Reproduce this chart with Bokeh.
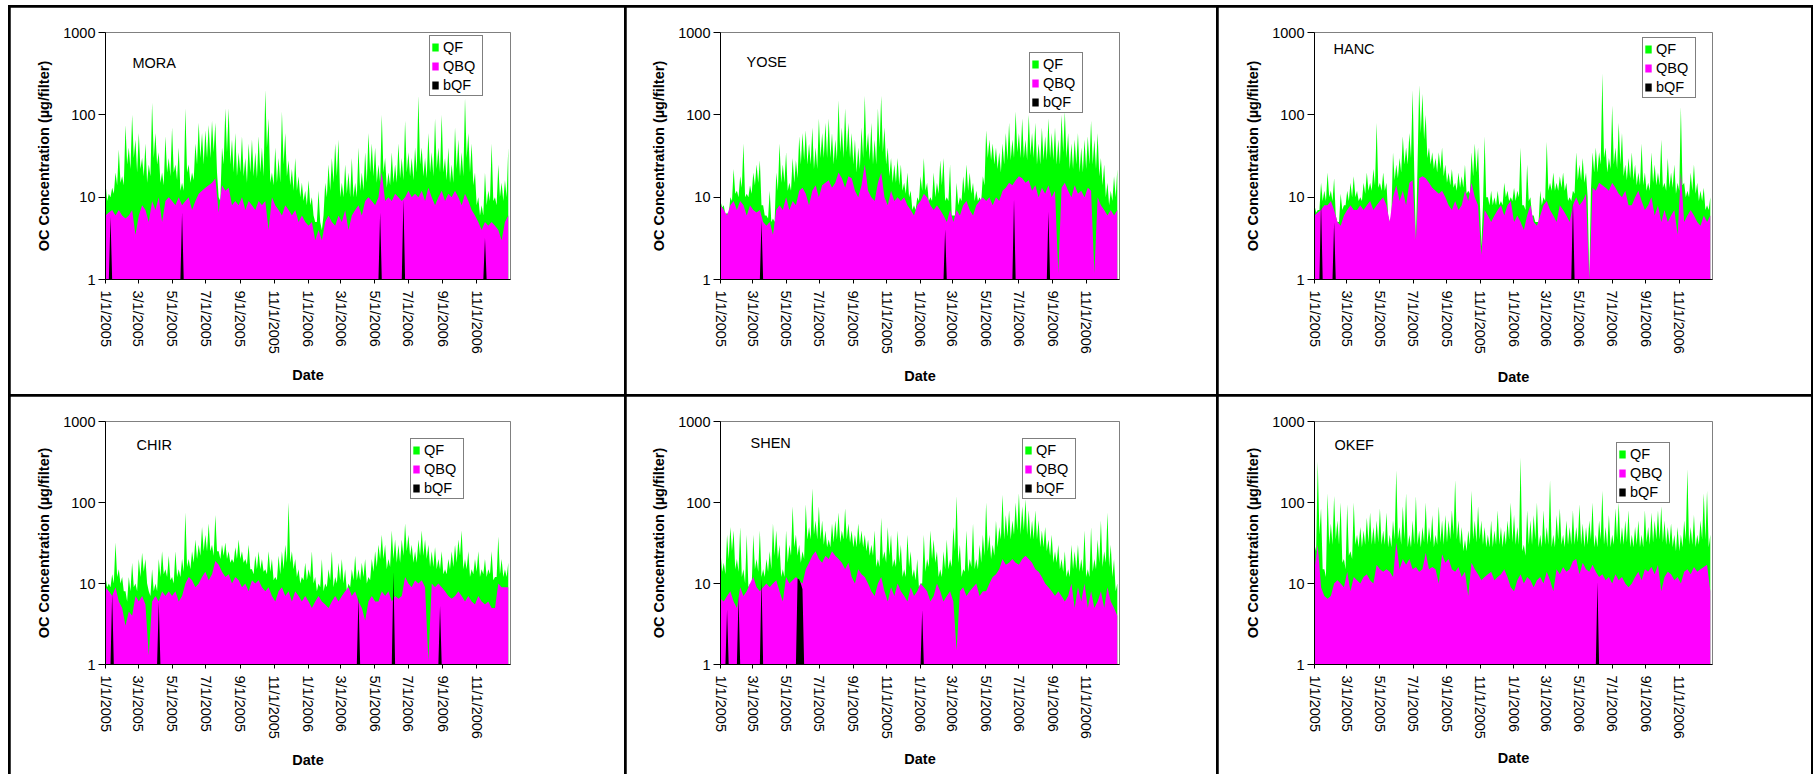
import numpy as np
import pandas as pd
from bokeh.plotting import figure
from bokeh.layouts import gridplot
from bokeh.models import (ColumnDataSource, Range1d, FixedTicker, PrintfTickFormatter,
                          Legend, LegendItem, Label)
from bokeh.embed import file_html
from bokeh.resources import INLINE

FONT = "Liberation Sans"
FS = "14.5px"

# ---------------- data ----------------
tick_labels = ["1/1/2005", "3/1/2005", "5/1/2005", "7/1/2005", "9/1/2005", "11/1/2005",
               "1/1/2006", "3/1/2006", "5/1/2006", "7/1/2006", "9/1/2006", "11/1/2006"]
y_ticks = [1, 10, 100, 1000]
series_names = ["QF", "QBQ", "bQF"]
sample_start = "2005-01-01"
sample_step = "6D"      # *_qf and *_qbq samples
mid_offset = "3D"       # *_qf_mid samples sit half-way between *_qf samples
bqf_step = "3D"
axis_start = "2005-01-01"
axis_end = "2007-01-01"

mora_qf = [15, 11, 13, 20, 38, 18, 75, 40, 100, 50,
           60, 30, 45, 25, 140, 60, 35, 20, 55, 30,
           70, 25, 40, 15, 120, 25, 20, 45, 80, 60,
           65, 75, 85, 80, 10, 40, 120, 120, 50, 60,
           35, 55, 30, 45, 50, 35, 55, 40, 200, 90,
           20, 40, 30, 110, 60, 28, 22, 30, 18, 15,
           12, 16, 10, 5, 12, 4, 15, 25, 30, 45,
           50, 15, 25, 20, 30, 15, 40, 20, 35, 60,
           45, 40, 25, 100, 30, 20, 35, 25, 45, 30,
           85, 35, 30, 40, 170, 40, 30, 60, 35, 90,
           40, 100, 30, 40, 25, 70, 50, 35, 160, 60,
           45, 20, 10, 8, 20, 12, 45, 10, 25, 15,
           16, 40]
mora_qf_mid = [9, 10, 11, 14, 15, 14, 25, 22, 30, 20,
               22, 18, 15, 18, 30, 25, 15, 14, 20, 18,
               20, 16, 12, 12, 20, 15, 16, 25, 30, 25,
               30, 30, 35, 20, 9, 25, 35, 25, 20, 18,
               20, 18, 15, 20, 18, 17, 20, 18, 40, 15,
               14, 15, 15, 25, 18, 14, 12, 12, 10, 9,
               8, 8, 6, 5, 5, 6, 10, 12, 15, 18,
               10, 10, 11, 10, 10, 10, 12, 12, 15, 20,
               18, 15, 15, 20, 13, 14, 15, 15, 17, 16,
               20, 18, 16, 20, 25, 18, 17, 20, 18, 22,
               20, 20, 16, 15, 15, 22, 18, 18, 30, 20,
               14, 8, 6, 6, 8, 9, 9, 8, 10, 9,
               10]
mora_qbq = [6, 6.5, 7, 6, 7, 6, 5.5, 6, 7, 3.5,
            6, 8, 7, 5, 9, 7, 10, 5, 9, 10,
            9, 8, 10, 8, 9, 10, 7, 9, 11, 12,
            13, 14, 15, 17, 6.5, 14, 12, 13, 8, 9,
            8, 10, 7, 9, 8, 7, 9, 8, 9, 4,
            10, 8, 7, 6, 8, 7, 6, 7, 5, 6,
            5, 4.5, 5, 3, 4, 3, 5, 6, 5, 4.5,
            6, 5, 7, 4, 6, 7, 8, 6, 9, 10,
            9, 8, 10, 20, 9, 10, 9, 11, 10, 9,
            10, 12, 10, 11, 10, 12, 9, 13, 10, 8,
            10, 12, 9, 11, 10, 12, 10, 8, 11, 9,
            7, 6, 5, 4, 5, 4.5, 5, 4.5, 4, 3,
            5, 6]
mora_bqf_dates = ["2005-01-11", "2005-05-18", "2006-05-11", "2006-06-22", "2006-11-16"]
mora_bqf_vals = [5.8, 6.5, 6.5, 9.5, 3.2]

yose_qf = [9, 8, 6.5, 10, 22, 12, 18, 45, 11, 14,
           20, 25, 28, 8, 6, 12, 5.5, 20, 45, 25,
           35, 15, 30, 28, 55, 60, 65, 45, 70, 40,
           90, 60, 80, 90, 60, 50, 150, 70, 120, 80,
           60, 50, 40, 70, 170, 60, 80, 50, 120, 170,
           70, 40, 30, 25, 30, 25, 15, 20, 12, 8,
           10, 18, 30, 15, 10, 20, 15, 28, 30, 10,
           25, 6, 15, 10, 18, 25, 20, 15, 12, 10,
           18, 65, 50, 45, 40, 35, 45, 60, 80, 50,
           110, 60, 90, 50, 100, 60, 80, 45, 70, 55,
           90, 60, 70, 50, 100, 110, 60, 45, 50, 60,
           40, 50, 55, 85, 50, 60, 30, 25, 15, 12,
           18, 22]
yose_qf_mid = [7.5, 6, 6, 9, 11, 10, 13, 10, 10, 11,
               14, 15, 8, 6, 5.5, 5, 5, 12, 15, 15,
               12, 12, 15, 17, 25, 28, 25, 25, 22, 22,
               30, 30, 30, 30, 25, 28, 35, 30, 35, 30,
               25, 20, 22, 30, 35, 28, 25, 25, 40, 35,
               25, 18, 15, 15, 14, 12, 11, 10, 7, 7,
               9, 12, 12, 9, 9, 10, 11, 14, 9, 9,
               6, 6, 8, 9, 11, 12, 11, 9, 9, 9,
               14, 30, 28, 25, 22, 20, 25, 28, 28, 30,
               35, 30, 30, 28, 32, 30, 25, 25, 28, 28,
               30, 28, 25, 25, 35, 30, 22, 22, 25, 20,
               20, 22, 25, 25, 22, 18, 14, 10, 8, 9,
               10]
yose_qbq = [8, 7, 6, 8, 9, 7, 9, 8, 6, 8,
            7, 6.5, 7, 5, 4.5, 5, 3.5, 7, 8, 7,
            10, 7, 9, 8, 12, 13, 11, 8, 12, 14,
            10, 14, 15, 16, 13, 15, 20, 17, 13, 18,
            17, 12, 10, 14, 25, 12, 10, 9, 15, 20,
            10, 8, 12, 9, 10, 9, 10, 8, 7, 6,
            8, 9, 11, 10, 8, 7, 8, 7, 6, 5,
            7, 5, 7, 6, 8, 9, 7, 6, 8, 9,
            10, 9, 10, 8, 10, 9, 12, 13, 15, 14,
            16, 18, 17, 15, 16, 12, 14, 10, 13, 11,
            14, 10, 12, 1.2, 13, 15, 12, 10, 14, 11,
            12, 10, 13, 12, 1.2, 10, 8, 7, 6, 7,
            6, 7]
yose_bqf_dates = ["2005-03-17", "2006-02-16", "2006-06-23", "2006-08-25"]
yose_bqf_vals = [5.2, 4.1, 9.5, 6.7]

hanc_qf = [8, 7, 15, 12, 20, 12, 17, 5, 11, 8,
           12, 15, 18, 12, 10, 15, 20, 15, 22, 80,
           15, 20, 15, 5, 35, 25, 30, 55, 40, 60,
           200, 3, 230, 180, 100, 40, 35, 30, 35, 40,
           25, 20, 22, 15, 20, 18, 25, 12, 35, 45,
           40, 2.5, 55, 10, 12, 10, 12, 9, 15, 12,
           10, 13, 12, 40, 8, 25, 10, 6, 5, 12,
           10, 47, 15, 20, 15, 18, 20, 15, 10, 12,
           35, 25, 30, 20, 1, 35, 40, 35, 320, 40,
           30, 130, 40, 80, 60, 25, 30, 35, 25, 20,
           45, 20, 15, 35, 25, 20, 50, 15, 30, 20,
           25, 15, 125, 15, 12, 20, 25, 15, 12, 13,
           8, 10]
hanc_qf_mid = [6.5, 7, 9, 9, 10, 9, 6, 5, 7, 8,
               9, 10, 10, 9, 9, 11, 12, 12, 14, 13,
               12, 12, 6, 6, 16, 17, 20, 25, 25, 30,
               20, 25, 60, 50, 30, 25, 22, 20, 22, 18,
               15, 14, 13, 12, 13, 13, 11, 11, 18, 20,
               10, 8, 10, 8, 8, 8, 8, 8, 10, 9,
               9, 9, 10, 8, 7, 9, 6, 5, 5, 8,
               9, 12, 12, 12, 12, 13, 12, 9, 9, 11,
               16, 16, 15, 10, 12, 20, 20, 25, 30, 20,
               22, 25, 22, 25, 18, 16, 17, 16, 14, 14,
               14, 12, 12, 15, 14, 14, 13, 12, 13, 13,
               11, 12, 14, 10, 10, 12, 11, 9, 9, 7,
               7]
hanc_qbq = [6, 6.5, 7, 8, 8, 9, 7, 5, 4.5, 6,
            7, 8, 7, 7, 8, 7, 8, 9, 7, 8,
            9, 10, 8, 5, 10, 14, 9, 12, 8, 15,
            16, 3, 17, 18, 17, 15, 13, 12, 11, 12,
            10, 8, 7, 9, 7, 8, 12, 9, 15, 10,
            8, 2, 7, 6, 5, 6, 7, 8, 6, 8,
            9, 5, 6, 5, 4, 6, 8, 5, 4.5, 6,
            8, 9, 7, 6, 5, 8, 7, 6, 5, 8,
            10, 8, 9, 11, 1, 13, 12, 15, 14, 13,
            12, 15, 13, 11, 10, 12, 8, 8, 10, 12,
            9, 7, 8, 10, 6, 8, 5, 7, 5, 6,
            7, 3.5, 20, 5, 6, 7, 6, 5, 4.5, 6,
            5, 6]
hanc_bqf_dates = ["2005-01-13", "2005-02-05", "2006-04-20"]
hanc_bqf_vals = [9, 5, 9]

chir_qf = [12, 10, 13, 32, 15, 12, 8, 12, 18, 10,
           20, 24, 20, 8, 15, 10, 20, 25, 15, 22,
           12, 25, 15, 20, 75, 20, 25, 35, 30, 50,
           40, 55, 30, 70, 25, 30, 32, 25, 20, 28,
           35, 25, 20, 30, 15, 22, 25, 20, 15, 25,
           20, 12, 22, 25, 30, 100, 25, 20, 15, 12,
           18, 15, 25, 12, 10, 20, 10, 15, 25, 12,
           18, 20, 15, 10, 15, 22, 15, 18, 20, 12,
           20, 25, 30, 40, 30, 20, 45, 35, 30, 35,
           55, 40, 30, 25, 35, 45, 35, 30, 25, 28,
           20, 25, 15, 20, 25, 30, 35, 45, 20, 25,
           15, 20, 25, 15, 20, 15, 25, 12, 38, 20,
           15, 18]
chir_qf_mid = [9, 9, 10, 12, 10, 8, 6, 8, 9, 8,
               12, 14, 10, 7, 8, 8, 12, 13, 12, 11,
               10, 12, 12, 14, 16, 15, 18, 20, 22, 25,
               25, 25, 22, 25, 20, 22, 20, 18, 18, 20,
               20, 18, 17, 15, 13, 15, 15, 14, 13, 14,
               11, 11, 13, 15, 18, 18, 15, 12, 10, 11,
               11, 12, 10, 8, 9, 8, 9, 11, 9, 10,
               11, 10, 8, 9, 11, 11, 11, 12, 10, 11,
               14, 16, 20, 20, 15, 16, 20, 18, 18, 22,
               25, 22, 18, 18, 22, 22, 20, 16, 16, 15,
               15, 13, 13, 15, 16, 18, 22, 15, 15, 12,
               13, 14, 12, 13, 12, 13, 11, 12, 13, 12,
               12]
chir_qbq = [9, 8, 7, 9, 6, 5, 3, 4.5, 4, 7,
            6, 7, 5.5, 1.3, 6, 7, 6, 8, 7, 8,
            7, 8, 6, 7, 10, 12, 11, 9, 10, 12,
            14, 11, 13, 19, 17, 14, 12, 13, 10, 12,
            11, 9, 10, 8, 11, 10, 11, 9, 8, 9,
            7, 6, 8, 9, 7, 8, 6, 8, 7, 6,
            7, 6, 5, 6, 7, 6, 5.5, 5, 6, 7,
            6, 7, 8, 9, 7, 8, 6, 5, 3.5, 6,
            7, 6, 6, 8, 7, 8, 6, 7, 6.5, 7,
            12, 10, 9, 11, 10, 11, 9, 1.1, 10, 9,
            10, 9, 8, 7, 6.5, 7, 8, 7, 6, 7,
            6, 5.5, 7, 6, 5.5, 6, 5, 5, 10, 9,
            9, 9]
chir_bqf_dates = ["2005-01-12", "2005-04-07", "2006-04-02", "2006-06-03", "2006-08-27"]
chir_bqf_vals = [7.5, 6, 7, 14, 5.3]

shen_qf = [25, 18, 40, 50, 45, 20, 50, 15, 40, 10,
           40, 20, 45, 15, 20, 25, 55, 45, 30, 15,
           45, 30, 90, 40, 30, 25, 95, 50, 150, 60,
           90, 60, 45, 35, 55, 60, 75, 45, 85, 55,
           45, 40, 55, 45, 40, 35, 30, 45, 20, 65,
           25, 50, 40, 20, 45, 30, 15, 40, 25, 15,
           20, 10, 40, 20, 45, 35, 25, 15, 25, 35,
           20, 50, 120, 30, 15, 45, 20, 55, 20, 30,
           40, 100, 40, 30, 60, 50, 125, 70, 80, 60,
           100, 130, 90, 110, 80, 60, 80, 60, 45, 50,
           35, 40, 25, 30, 20, 25, 15, 30, 25, 30,
           20, 45, 15, 50, 20, 35, 60, 25, 75, 30,
           20, 10]
shen_qf_mid = [14, 13, 20, 25, 15, 14, 12, 10, 9, 9,
               15, 14, 12, 12, 14, 15, 22, 20, 12, 12,
               18, 22, 28, 22, 18, 20, 35, 35, 40, 35,
               35, 30, 28, 28, 32, 35, 32, 35, 35, 32,
               28, 28, 30, 28, 25, 22, 22, 16, 16, 20,
               18, 22, 16, 16, 18, 12, 12, 16, 12, 11,
               9, 10, 14, 16, 20, 18, 12, 12, 15, 15,
               16, 25, 18, 12, 14, 14, 16, 15, 15, 18,
               22, 25, 20, 22, 28, 35, 35, 38, 35, 40,
               45, 40, 45, 40, 35, 35, 35, 28, 28, 25,
               22, 18, 18, 15, 14, 12, 12, 15, 15, 14,
               14, 12, 12, 14, 15, 18, 16, 18, 16, 12,
               8]
shen_qbq = [6.5, 6, 7, 8, 6, 5, 9, 7, 8, 10,
            12, 9, 8, 9, 10, 9, 10, 11, 8, 6,
            12, 10, 11, 12, 11, 10, 15, 18, 22, 25,
            20, 18, 22, 20, 25, 22, 20, 18, 15, 18,
            12, 10, 15, 13, 12, 10, 8, 7, 10, 12,
            8, 6, 9, 7, 10, 8, 7, 6, 9, 7,
            8, 10, 9, 8, 6, 7, 10, 8, 6, 7,
            8, 6, 1.5, 8, 9, 7, 8, 9, 10, 7,
            8, 8, 10, 12, 13, 15, 20, 17, 18, 20,
            18, 17, 20, 22, 20, 18, 15, 14, 12, 10,
            9, 8, 7, 8, 7, 6, 7, 10, 5, 9,
            6, 10, 5, 8, 5, 6, 8, 5, 9, 6,
            5, 4]
shen_bqf_dates = ["2005-01-14", "2005-02-04", "2005-03-18", "2005-05-22", "2005-05-25",
                  "2005-05-28", "2005-05-31", "2006-01-05"]
shen_bqf_vals = [4.8, 7, 12, 11.5, 11.2, 10, 8.5, 4.7]

okef_qf = [30, 320, 85, 15, 130, 55, 120, 60, 100, 20,
           95, 25, 100, 40, 50, 45, 65, 75, 50, 60,
           85, 45, 75, 40, 60, 250, 50, 90, 130, 40,
           60, 120, 45, 50, 100, 50, 70, 40, 90, 60,
           70, 60, 80, 190, 60, 50, 35, 45, 140, 60,
           90, 60, 50, 40, 60, 45, 80, 50, 45, 60,
           100, 70, 50, 360, 30, 80, 60, 70, 100, 40,
           80, 50, 190, 40, 70, 85, 40, 60, 50, 80,
           50, 95, 55, 50, 60, 100, 40, 60, 140, 50,
           70, 40, 85, 100, 50, 60, 80, 40, 50, 60,
           40, 80, 50, 75, 60, 80, 90, 60, 50, 55,
           40, 50, 40, 60, 260, 50, 70, 40, 60, 130,
           140, 40]
okef_qf_mid = [25, 40, 15, 12, 30, 30, 35, 30, 18, 15,
               22, 20, 30, 28, 28, 30, 32, 30, 30, 32,
               30, 30, 28, 28, 35, 35, 30, 35, 28, 28,
               30, 30, 28, 32, 30, 32, 28, 30, 32, 30,
               32, 35, 40, 35, 30, 25, 25, 30, 35, 32,
               35, 30, 28, 28, 28, 30, 30, 28, 30, 35,
               32, 30, 30, 25, 22, 30, 30, 35, 28, 28,
               30, 30, 28, 28, 35, 30, 28, 30, 30, 30,
               32, 30, 28, 30, 35, 28, 28, 35, 30, 28,
               28, 30, 35, 30, 30, 32, 28, 28, 30, 28,
               28, 32, 30, 32, 35, 35, 32, 30, 30, 28,
               25, 25, 28, 35, 30, 30, 28, 30, 35, 35,
               28]
okef_qbq = [15, 30, 9, 7, 6.5, 7, 10, 11, 10, 9,
            14, 8, 12, 11, 10, 12, 13, 11, 10, 17,
            15, 14, 15, 14, 12, 32, 15, 20, 17, 20,
            15, 16, 14, 15, 24, 15, 16, 15, 10, 23,
            18, 20, 15, 14, 16, 12, 14, 7, 18, 15,
            13, 11, 12, 13, 14, 11, 12, 13, 15, 12,
            9, 8, 11, 13, 10, 12, 11, 9, 11, 12,
            10, 14, 11, 8, 15, 13, 16, 14, 15, 19,
            20, 13, 18, 15, 14, 17, 14, 12, 13, 11,
            12, 10, 13, 11, 12, 10, 9, 10, 12, 14,
            11, 15, 14, 16, 13, 17, 8, 12, 14, 13,
            11, 12, 10, 14, 15, 13, 16, 14, 15, 16,
            17, 8]
okef_bqf_dates = ["2006-06-04"]
okef_bqf_vals = [10.5]

sites = [
    ("MORA", mora_qf, mora_qf_mid, mora_qbq, mora_bqf_dates, mora_bqf_vals),
    ("YOSE", yose_qf, yose_qf_mid, yose_qbq, yose_bqf_dates, yose_bqf_vals),
    ("HANC", hanc_qf, hanc_qf_mid, hanc_qbq, hanc_bqf_dates, hanc_bqf_vals),
    ("CHIR", chir_qf, chir_qf_mid, chir_qbq, chir_bqf_dates, chir_bqf_vals),
    ("SHEN", shen_qf, shen_qf_mid, shen_qbq, shen_bqf_dates, shen_bqf_vals),
    ("OKEF", okef_qf, okef_qf_mid, okef_qbq, okef_bqf_dates, okef_bqf_vals),
]

# ---------------- layout (pixels) ----------------
layout_specs = [
    dict(W=614, H=387, L=95, R=114, T=25, B=115, leg=(324, 183), lab=(27, 30), xs=10),
    dict(W=590, H=387, L=94, R=86, T=25, B=111, leg=(309, 166), lab=(26, 33), xs=11),
    dict(W=593, H=387, L=96, R=86, T=25, B=111, leg=(328, 181), lab=(19, 20), xs=12),
    dict(W=614, H=378, L=95, R=114, T=25, B=107, leg=(305, 165), lab=(31, 26), xs=10),
    dict(W=590, H=378, L=92, R=97, T=24, B=109, leg=(302, 165), lab=(30, 23), xs=9),
    dict(W=593, H=378, L=94, R=99, T=24, B=110, leg=(302, 161), lab=(20, 24), xs=8),
]

COLORS = {"QF": "#00FF00", "QBQ": "#FF00FF", "bQF": "#000000"}

epoch = pd.Timestamp("1970-01-01")
tick_ts = pd.to_datetime(tick_labels, format="%m/%d/%Y")
tick_ms = [float((t - epoch) // pd.Timedelta(milliseconds=1)) for t in tick_ts]
overrides = {ms: lab for ms, lab in zip(tick_ms, tick_labels)}

bqf_grid = pd.date_range(sample_start, "2006-12-31", freq=bqf_step)


def make_panel(site, spec):
    name, qf, qf_mid, qbq, bdates, bvals = site
    W, H = spec["W"], spec["H"]
    p = figure(width=W, height=H, x_axis_type="datetime", y_axis_type="log",
               x_range=Range1d(pd.Timestamp(axis_start), pd.Timestamp(axis_end)),
               y_range=Range1d(1, 1000),
               output_backend="svg", toolbar_location=None,
               min_border_left=spec["L"], min_border_right=spec["R"],
               min_border_top=spec["T"], min_border_bottom=spec["B"])
    p.background_fill_color = "white"
    p.border_fill_color = "white"
    p.outline_line_color = "#808080"
    p.outline_line_width = 1
    p.xgrid.visible = False
    p.ygrid.visible = False

    # QF: main samples plus the in-between samples, merged in date order
    d_main = pd.date_range(sample_start, periods=len(qf), freq=sample_step)
    d_mid = d_main[:len(qf_mid)] + pd.Timedelta(mid_offset)
    qf_df = pd.DataFrame({"date": list(d_main) + list(d_mid),
                          "qf": list(qf) + list(qf_mid)}).sort_values("date")
    qf_src = ColumnDataSource(dict(date=qf_df["date"].values, qf=qf_df["qf"].values,
                                   base=[1.0] * len(qf_df)))
    r_qf = p.varea(x="date", y1="base", y2="qf", source=qf_src, fill_color=COLORS["QF"])

    src = ColumnDataSource(dict(date=d_main, qbq=qbq, base=[1.0] * len(qbq)))
    r_qbq = p.varea(x="date", y1="base", y2="qbq", source=src, fill_color=COLORS["QBQ"])

    bser = [1.0] * len(bqf_grid)
    g0 = bqf_grid[0]
    for d, v in zip(bdates, bvals):
        idx = int(round((pd.Timestamp(d) - g0).days / 3))
        bser[idx] = v
    bsrc = ColumnDataSource(dict(date=bqf_grid, bqf=bser, base=[1.0] * len(bser)))
    r_b = p.varea(x="date", y1="base", y2="bqf", source=bsrc, fill_color=COLORS["bQF"])

    # x axis
    xa = p.xaxis[0]
    xa.ticker = FixedTicker(ticks=tick_ms, minor_ticks=[])
    xa.major_label_overrides = overrides
    xa.major_label_orientation = "vertical"
    xa.major_label_text_font = FONT
    xa.major_label_text_font_size = FS
    xa.major_label_text_color = "black"
    xa.major_label_standoff = 7
    xa.major_tick_in = 0
    xa.major_tick_out = 4
    xa.minor_tick_line_color = None
    xa.axis_line_color = "black"
    xa.major_tick_line_color = "black"
    xa.axis_label = "Date"
    xa.axis_label_text_font = FONT
    xa.axis_label_text_font_size = FS
    xa.axis_label_text_font_style = "bold"
    xa.axis_label_text_color = "black"
    xa.axis_label_standoff = spec["xs"]

    # y axis
    ya = p.yaxis[0]
    ya.ticker = FixedTicker(ticks=y_ticks, minor_ticks=[])
    ya.formatter = PrintfTickFormatter(format="%d")
    ya.major_label_text_font = FONT
    ya.major_label_text_font_size = FS
    ya.major_label_text_color = "black"
    ya.major_label_standoff = 3
    ya.major_tick_in = 0
    ya.major_tick_out = 7
    ya.minor_tick_line_color = None
    ya.axis_line_color = "black"
    ya.major_tick_line_color = "black"
    ya.axis_label = "OC Concentration (µg/filter)"
    ya.axis_label_text_font = FONT
    ya.axis_label_text_font_size = FS
    ya.axis_label_text_font_style = "bold"
    ya.axis_label_text_color = "black"
    ya.axis_label_standoff = 8

    # legend
    items = [LegendItem(label=series_names[0], renderers=[r_qf]),
             LegendItem(label=series_names[1], renderers=[r_qbq]),
             LegendItem(label=series_names[2], renderers=[r_b])]
    leg = Legend(items=items, location=spec["leg"], padding=1, spacing=0,
                 label_height=19, glyph_height=10, glyph_width=8,
                 label_standoff=4, label_width=38, margin=0,
                 border_line_color="black", border_line_width=1,
                 background_fill_color="white", background_fill_alpha=1.0,
                 label_text_font=FONT, label_text_font_size=FS,
                 label_text_color="black")
    p.add_layout(leg)

    # site label
    frame_h = H - spec["T"] - spec["B"]
    lx, ltop = spec["lab"]
    p.add_layout(Label(x=lx, y=frame_h - ltop, x_units="screen", y_units="screen",
                       text=name, text_font=FONT, text_font_size=FS,
                       text_baseline="middle", text_align="left", text_color="black"))
    return p


figs = [make_panel(s, sp) for s, sp in zip(sites, layout_specs)]
grid = gridplot([figs[0:3], figs[3:6]], toolbar_location=None)
grid.spacing = 2
# black gaps between panels + outer frame (no bottom edge, as in the source image)
grid.styles = {"background-color": "black", "padding": "2px 2px 0px 2px",
               "margin-left": "8px", "margin-top": "5px", "width": "fit-content"}

open("out.html", "w").write(file_html(grid, INLINE))
